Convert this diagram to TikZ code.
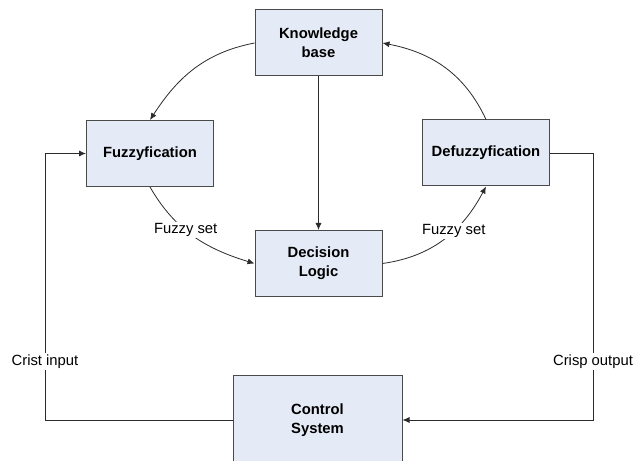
\documentclass[tikz,border=0pt]{standalone}
\usepackage{fontspec}
\setmainfont{Liberation Sans}
\usetikzlibrary{arrows.meta}
\definecolor{fzFill}{HTML}{E5EBF6}
\definecolor{fzBorder}{HTML}{4A4A4A}
\definecolor{fzLine}{HTML}{2B2B2B}
\tikzset{
  fz diagram/.style={font=\fontsize{14.5}{19}\selectfont, text=black},
  fz box/.style={draw=fzBorder, fill=fzFill, line width=1pt,
    align=center, inner sep=0pt, minimum width=127pt, minimum height=66pt,
    font=\fontsize{14.8}{19}\selectfont\bfseries},
  fz arrow/.style={-{Latex[length=7pt,width=6pt]}, draw=fzLine, line width=0.8pt},
  fz label/.style={fill=white, inner sep=1.5pt, font=\fontsize{14.8}{17}\selectfont}
}

\begin{document}
\begin{tikzpicture}[fz diagram, x=1pt, y=1pt]
\useasboundingbox (0,0) rectangle (644,460);
\node[fz box] (kb) at (318.5,417) {Knowledge\\base};
\node[fz box] (fuzz) at (150,306.5) {Fuzzyfication};
\node[fz box] (defuzz) at (486,307) {Defuzzyfication};
\node[fz box] (dec) at (318.5,196.5) {Decision\\Logic};
\node[fz box, minimum width=169pt, minimum height=88pt] (ctrl) at (317.5,40) {Control\\System};
\coordinate (inx) at (45,0);
\coordinate (outx) at (593,0);
\draw[fz arrow] (kb.west) to[out=191,in=57] (fuzz.north);
\draw[fz arrow] (defuzz.north) to[out=115,in=-11] (kb.east);
\draw[fz arrow] (kb.south) -- (dec.north);
\draw[fz arrow] (fuzz.south) to[out=-60,in=163] node[fz label,pos=0.42]{Fuzzy set} (dec.west);
\draw[fz arrow] (dec.east) to[out=8,in=-118] node[fz label,pos=0.6]{Fuzzy set} (defuzz.south);
% closed loop through the plant
\draw[fz arrow] (ctrl.west) -- (ctrl.west -| inx) -- node[fz label,pos=0.22]{Crist input} (fuzz.west -| inx) -- (fuzz.west);
\draw[fz arrow] (defuzz.east) -- (defuzz.east -| outx) -- node[fz label,pos=0.78]{Crisp output} (ctrl.east -| outx) -- (ctrl.east);
\end{tikzpicture}
\end{document}
